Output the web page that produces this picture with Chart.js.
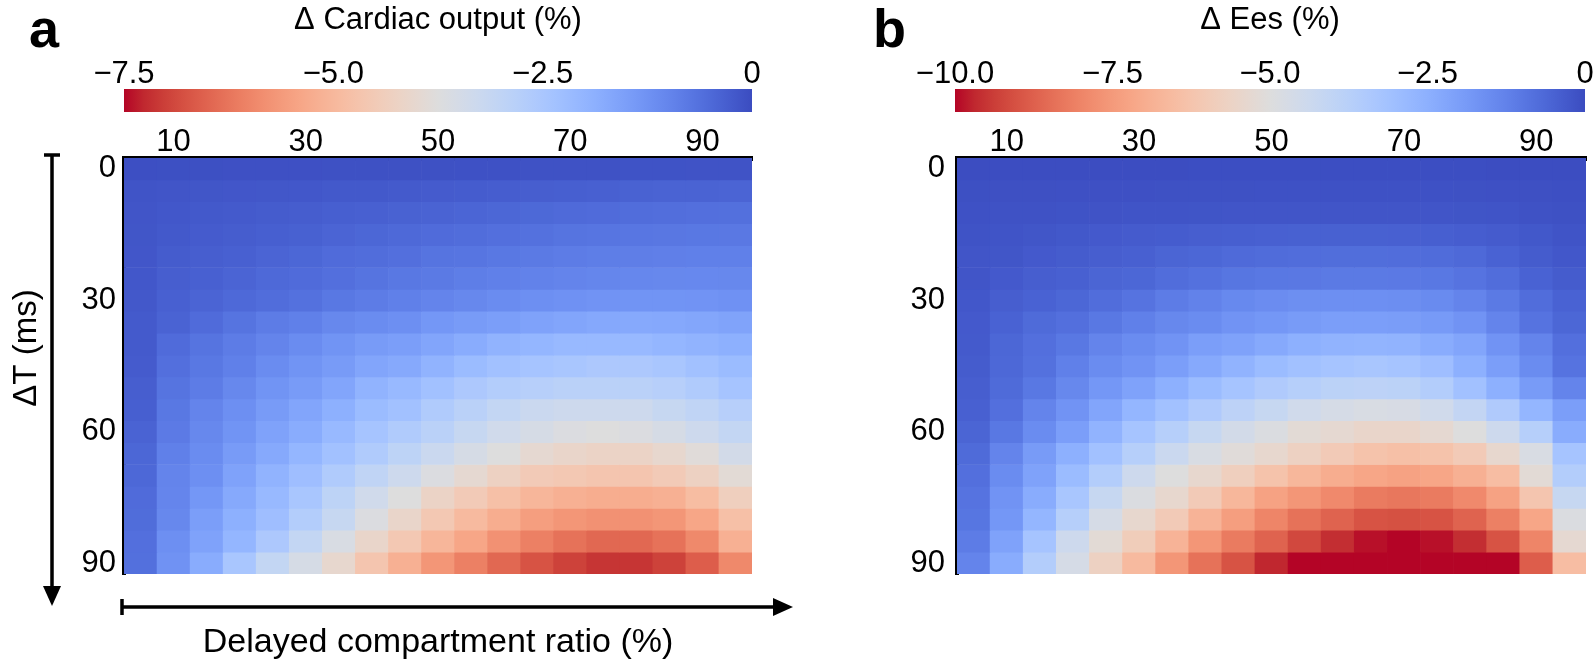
<!DOCTYPE html>
<html>
<head>
<meta charset="utf-8">
<script src="https://cdn.jsdelivr.net/npm/chart.js@4.4.1/dist/chart.umd.min.js"></script>
<style>
  html, body { margin: 0; padding: 0; background: #fff; }
  body { width: 1594px; height: 666px; position: relative; overflow: hidden; font-family: 'Liberation Sans', Arial, sans-serif; }
  .box { position: absolute; }
  .tag { position: absolute; font-weight: bold; font-size: 54px; line-height: 1; color: #000; }
</style>
</head>
<body>
<div class="tag" style="left:29px;top:1px">a</div>
<div class="tag" style="left:873px;top:1px">b</div>
<div class="box" style="left:0px;top:80px;width:800px;height:586px"><canvas id="heatA"></canvas></div>
<div class="box" style="left:850px;top:80px;width:744px;height:586px"><canvas id="heatB"></canvas></div>
<div class="box" style="left:84px;top:0px;width:708px;height:112px"><canvas id="barA"></canvas></div>
<div class="box" style="left:915px;top:0px;width:710px;height:112px"><canvas id="barB"></canvas></div>
<script>
// delayed compartment ratio (%) columns and ΔT (ms) rows
const xLabels = [5, 10, 15, 20, 25, 30, 35, 40, 45, 50, 55, 60, 65, 70, 75, 80, 85, 90, 95];
const yLabels = [0, 5, 10, 15, 20, 25, 30, 35, 40, 45, 50, 55, 60, 65, 70, 75, 80, 85, 90];
const xTicks = [10, 30, 50, 70, 90];
const yTicks = [0, 30, 60, 90];
const cbTicksA = [-7.5, -5, -2.5, 0];
const cbTicksB = [-10, -7.5, -5, -2.5, 0];

// Δ cardiac output (%), one row per ΔT
const coData = [
  [-0.05,-0.06,-0.06,-0.07,-0.07,-0.07,-0.08,-0.08,-0.08,-0.08,-0.09,-0.09,-0.1,-0.1,-0.1,-0.11,-0.11,-0.12,-0.12],
  [-0.14,-0.15,-0.16,-0.17,-0.18,-0.19,-0.21,-0.22,-0.24,-0.25,-0.27,-0.29,-0.3,-0.32,-0.34,-0.36,-0.38,-0.39,-0.41],
  [-0.15,-0.19,-0.22,-0.24,-0.26,-0.28,-0.31,-0.34,-0.37,-0.39,-0.42,-0.45,-0.48,-0.51,-0.53,-0.56,-0.58,-0.6,-0.61],
  [-0.16,-0.22,-0.25,-0.28,-0.31,-0.35,-0.41,-0.45,-0.49,-0.53,-0.56,-0.6,-0.64,-0.68,-0.71,-0.72,-0.74,-0.75,-0.76],
  [-0.17,-0.26,-0.3,-0.34,-0.41,-0.45,-0.53,-0.56,-0.6,-0.68,-0.71,-0.75,-0.79,-0.83,-0.86,-0.87,-0.89,-0.9,-0.9],
  [-0.19,-0.3,-0.34,-0.41,-0.49,-0.53,-0.6,-0.68,-0.75,-0.79,-0.86,-0.9,-0.94,-0.98,-1.01,-1.04,-1.05,-1.06,-1.05],
  [-0.2,-0.34,-0.41,-0.49,-0.56,-0.64,-0.75,-0.83,-0.9,-0.98,-1.05,-1.13,-1.2,-1.24,-1.27,-1.28,-1.28,-1.27,-1.24],
  [-0.23,-0.38,-0.53,-0.68,-0.83,-0.9,-1.05,-1.13,-1.2,-1.35,-1.43,-1.5,-1.58,-1.65,-1.7,-1.72,-1.7,-1.66,-1.6],
  [-0.24,-0.53,-0.68,-0.83,-0.98,-1.13,-1.28,-1.43,-1.5,-1.65,-1.8,-1.95,-2.03,-2.1,-2.12,-2.1,-2.03,-1.95,-1.88],
  [-0.25,-0.6,-0.75,-0.9,-1.13,-1.28,-1.43,-1.65,-1.73,-1.95,-2.18,-2.33,-2.4,-2.48,-2.55,-2.55,-2.48,-2.33,-2.18],
  [-0.3,-0.68,-0.83,-1.05,-1.28,-1.43,-1.65,-1.95,-2.1,-2.33,-2.55,-2.7,-2.78,-2.85,-2.87,-2.85,-2.78,-2.63,-2.4],
  [-0.32,-0.75,-0.98,-1.2,-1.43,-1.65,-1.88,-2.18,-2.33,-2.63,-2.85,-3.08,-3.23,-3.3,-3.32,-3.3,-3.15,-3.0,-2.78],
  [-0.38,-0.8,-1.05,-1.28,-1.58,-1.8,-2.1,-2.4,-2.63,-2.85,-3.15,-3.38,-3.53,-3.68,-3.75,-3.68,-3.53,-3.3,-3.08],
  [-0.45,-0.9,-1.13,-1.43,-1.73,-2.03,-2.33,-2.63,-2.93,-3.23,-3.53,-3.75,-3.98,-4.13,-4.2,-4.2,-4.05,-3.83,-3.45],
  [-0.47,-0.98,-1.2,-1.58,-1.95,-2.25,-2.63,-3.0,-3.3,-3.68,-3.98,-4.28,-4.5,-4.58,-4.65,-4.65,-4.5,-4.28,-3.9],
  [-0.53,-1.0,-1.35,-1.73,-2.1,-2.48,-2.93,-3.38,-3.75,-4.2,-4.5,-4.8,-5.03,-5.18,-5.25,-5.25,-5.18,-4.88,-4.35],
  [-0.55,-1.05,-1.5,-1.88,-2.25,-2.7,-3.15,-3.68,-4.13,-4.58,-4.95,-5.25,-5.55,-5.7,-5.78,-5.78,-5.7,-5.4,-4.8],
  [-0.6,-1.2,-1.58,-2.03,-2.55,-3.08,-3.6,-4.13,-4.58,-5.03,-5.4,-5.78,-6.08,-6.3,-6.45,-6.45,-6.3,-5.93,-5.18],
  [-0.62,-1.25,-1.8,-2.48,-3.08,-3.53,-4.05,-4.65,-5.18,-5.7,-6.08,-6.45,-6.75,-6.98,-7.13,-7.13,-6.98,-6.6,-5.93]
];

// Δ Ees (%), one row per ΔT
const eesData = [
  [-0.02,-0.02,-0.03,-0.03,-0.03,-0.03,-0.03,-0.04,-0.04,-0.04,-0.04,-0.04,-0.04,-0.04,-0.04,-0.04,-0.03,-0.03,-0.02],
  [-0.08,-0.09,-0.09,-0.1,-0.1,-0.1,-0.11,-0.11,-0.11,-0.12,-0.12,-0.12,-0.12,-0.12,-0.12,-0.11,-0.1,-0.09,-0.07],
  [-0.12,-0.13,-0.14,-0.15,-0.16,-0.17,-0.18,-0.19,-0.2,-0.2,-0.21,-0.21,-0.21,-0.21,-0.2,-0.19,-0.17,-0.14,-0.11],
  [-0.15,-0.18,-0.22,-0.26,-0.3,-0.33,-0.36,-0.4,-0.43,-0.45,-0.46,-0.46,-0.46,-0.45,-0.43,-0.39,-0.34,-0.26,-0.18],
  [-0.2,-0.22,-0.3,-0.35,-0.4,-0.45,-0.55,-0.6,-0.68,-0.72,-0.75,-0.76,-0.76,-0.75,-0.72,-0.65,-0.5,-0.35,-0.25],
  [-0.2,-0.3,-0.4,-0.45,-0.55,-0.6,-0.75,-0.85,-0.95,-1.0,-1.02,-1.05,-1.05,-1.04,-1.0,-0.9,-0.75,-0.5,-0.35],
  [-0.25,-0.4,-0.5,-0.6,-0.75,-0.9,-1.1,-1.25,-1.42,-1.52,-1.58,-1.6,-1.6,-1.55,-1.48,-1.3,-1.05,-0.75,-0.5],
  [-0.3,-0.5,-0.7,-0.8,-1.0,-1.2,-1.4,-1.5,-1.7,-1.8,-1.9,-2.0,-2.0,-1.95,-1.88,-1.7,-1.3,-0.9,-0.6],
  [-0.32,-0.6,-0.8,-1.0,-1.3,-1.5,-1.7,-2.0,-2.1,-2.3,-2.5,-2.6,-2.65,-2.6,-2.4,-2.2,-1.7,-1.3,-0.8],
  [-0.35,-0.62,-0.85,-1.2,-1.5,-1.7,-2.0,-2.3,-2.6,-2.9,-3.1,-3.2,-3.3,-3.2,-3.0,-2.5,-2.0,-1.5,-0.9],
  [-0.4,-0.7,-1.0,-1.4,-1.8,-2.1,-2.5,-2.9,-3.2,-3.5,-3.7,-3.85,-3.9,-3.85,-3.6,-3.1,-2.5,-1.9,-1.3],
  [-0.45,-0.8,-1.3,-1.7,-2.2,-2.7,-3.1,-3.5,-3.9,-4.2,-4.5,-4.7,-4.8,-4.75,-4.5,-4.1,-3.5,-2.7,-2.0],
  [-0.55,-1.0,-1.5,-2.0,-2.6,-3.2,-3.7,-4.2,-4.6,-4.9,-5.2,-5.3,-5.5,-5.5,-5.3,-5.0,-4.4,-3.7,-2.4],
  [-0.7,-1.3,-1.9,-2.5,-3.1,-3.7,-4.3,-4.8,-5.1,-5.4,-5.7,-6.0,-6.3,-6.4,-6.3,-6.0,-5.4,-4.8,-3.2],
  [-0.8,-1.5,-2.1,-2.9,-3.6,-4.4,-5.0,-5.4,-5.8,-6.3,-6.7,-7.0,-7.2,-7.3,-7.2,-6.9,-6.5,-5.2,-3.6],
  [-0.9,-1.7,-2.4,-3.3,-4.2,-4.9,-5.4,-6.0,-6.7,-7.3,-7.6,-7.9,-8.2,-8.3,-8.2,-7.9,-7.3,-6.2,-4.2],
  [-0.95,-1.8,-2.7,-3.7,-4.7,-5.4,-6.0,-6.8,-7.4,-8.0,-8.4,-8.7,-9.0,-9.05,-9.0,-8.7,-8.1,-7.2,-4.9],
  [-1.1,-2.1,-3.2,-4.4,-5.2,-5.9,-6.8,-7.6,-8.2,-8.7,-9.2,-9.6,-9.9,-10.0,-9.9,-9.6,-9.0,-8.0,-5.3],
  [-1.3,-2.4,-3.6,-4.7,-5.7,-6.6,-7.6,-8.4,-9.0,-9.7,-10.1,-10.4,-10.6,-10.7,-10.6,-10.4,-10.1,-8.8,-6.5]
];

// coolwarm colormap, blue (0) -> red (1)
const coolwarmStops = [
  [59,76,192],[68,90,204],[77,104,215],[87,117,225],[98,130,234],[108,142,241],[119,154,247],[130,165,251],
  [141,176,254],[152,185,255],[163,194,255],[174,201,253],[184,208,249],[194,213,244],[204,217,238],[213,219,230],
  [221,221,221],[229,216,209],[236,211,197],[241,204,185],[245,196,173],[247,187,160],[247,177,148],[247,166,135],
  [244,154,123],[241,141,111],[236,127,99],[229,112,88],[222,96,77],[213,80,66],[203,62,56],[192,40,47],[180,4,38]
];

function coolwarm(t) {
  t = Math.min(1, Math.max(0, t));
  const n = coolwarmStops.length;
  const p = t * (n - 1);
  const i = Math.min(n - 2, Math.floor(p));
  const f = p - i;
  const a = coolwarmStops[i], b = coolwarmStops[i + 1];
  const c = a.map((v, k) => Math.round(v + (b[k] - v) * f));
  return 'rgb(' + c.join(',') + ')';
}

function cbGradient(chart) {
  const a = chart.chartArea;
  if (!a) return null;
  const g = chart.ctx.createLinearGradient(a.left, 0, a.right, 0);
  const n = coolwarmStops.length;
  coolwarmStops.forEach((c, k) => g.addColorStop(1 - k / (n - 1), 'rgb(' + c.join(',') + ')'));
  return g;
}

Chart.defaults.font.family = "'Liberation Sans', Arial, sans-serif";
Chart.defaults.color = '#000';

// arrows and axis names of panel a
const panelAExtras = {
  id: 'panelAExtras',
  afterDraw(chart) {
    const { ctx, chartArea: a } = chart;
    ctx.save();
    ctx.strokeStyle = '#000';
    ctx.fillStyle = '#000';
    ctx.lineWidth = 3.5;

    // ΔT arrow (down)
    const vx = a.left - 72, vTop = a.top - 3, vTip = a.bottom + 32;
    ctx.beginPath();
    ctx.moveTo(vx - 8, vTop); ctx.lineTo(vx + 8, vTop);
    ctx.moveTo(vx, vTop); ctx.lineTo(vx, vTip - 18);
    ctx.stroke();
    ctx.beginPath();
    ctx.moveTo(vx - 9, vTip - 20); ctx.lineTo(vx + 9, vTip - 20); ctx.lineTo(vx, vTip);
    ctx.closePath(); ctx.fill();

    // ratio arrow (right)
    const hy = a.bottom + 33, hLeft = a.left - 2, hTip = a.right + 41;
    ctx.beginPath();
    ctx.moveTo(hLeft, hy - 8); ctx.lineTo(hLeft, hy + 8);
    ctx.moveTo(hLeft, hy); ctx.lineTo(hTip - 18, hy);
    ctx.stroke();
    ctx.beginPath();
    ctx.moveTo(hTip - 20, hy - 9); ctx.lineTo(hTip - 20, hy + 9); ctx.lineTo(hTip, hy);
    ctx.closePath(); ctx.fill();

    ctx.font = "34px 'Liberation Sans', Arial, sans-serif";
    ctx.textAlign = 'center';
    ctx.textBaseline = 'middle';
    ctx.fillText('Delayed compartment ratio (%)', (a.left + a.right) / 2, a.bottom + 69);

    ctx.font = "33px 'Liberation Sans', Arial, sans-serif";
    ctx.translate(a.left - 97, a.top + 190);
    ctx.rotate(-Math.PI / 2);
    ctx.fillText('\u0394T (ms)', 0, 0);
    ctx.restore();
  }
};

function heatmap(id, rows, vmin, opt) {
  const datasets = rows.map((vals, r) => ({
    data: vals.map(() => [yLabels[r] - 2.5, yLabels[r] + 2.5]),
    backgroundColor: vals.map(v => coolwarm(v / vmin)),
    borderWidth: 0,
    barPercentage: 1,
    categoryPercentage: 1,
    grouped: false
  }));
  return new Chart(document.getElementById(id), {
    type: 'bar',
    data: { labels: xLabels, datasets },
    plugins: opt.plugins || [],
    options: {
      responsive: true,
      maintainAspectRatio: false,
      animation: false,
      events: [],
      layout: { padding: { left: 0, right: opt.right, top: 0, bottom: 92 } },
      plugins: { legend: { display: false }, tooltip: { enabled: false } },
      scales: {
        x: {
          type: 'category',
          position: 'top',
          offset: true,
          z: 1,
          grid: { display: false, drawTicks: false },
          border: { display: true, color: '#000', width: 5 },
          ticks: {
            autoSkip: false,
            maxRotation: 0,
            padding: 0,
            font: { size: 31, lineHeight: 1 },
            callback: (v, i) => xTicks.includes(xLabels[i]) ? String(xLabels[i]) : ''
          },
          afterFit: s => { s.height = 78; }
        },
        y: {
          type: 'linear',
          reverse: true,
          min: -2.5,
          max: 92.5,
          z: 1,
          grid: { display: false, drawTicks: false },
          border: { display: true, color: '#000', width: 4 },
          afterBuildTicks: s => { s.ticks = yTicks.map(v => ({ value: v })); },
          ticks: { padding: opt.yPad, font: { size: 31 }, callback: v => String(v) },
          afterFit: s => { s.width = opt.yw; }
        }
      }
    }
  });
}

function colorbar(id, title, vmin, tickVals) {
  return new Chart(document.getElementById(id), {
    type: 'bar',
    data: {
      labels: [''],
      datasets: [{
        data: [[vmin, 0]],
        backgroundColor: c => cbGradient(c.chart),
        borderWidth: 0,
        barPercentage: 1,
        categoryPercentage: 1
      }]
    },
    options: {
      indexAxis: 'y',
      responsive: true,
      maintainAspectRatio: false,
      animation: false,
      events: [],
      layout: { padding: { left: 40, right: 40, top: 0, bottom: 0 } },
      plugins: {
        legend: { display: false },
        tooltip: { enabled: false },
        title: {
          display: true,
          text: title,
          color: '#000',
          font: { size: 31, weight: 'normal', lineHeight: 1.2 },
          padding: { top: 2, bottom: 0 }
        }
      },
      scales: {
        x: {
          type: 'linear',
          position: 'top',
          min: vmin,
          max: 0,
          grid: { display: false, drawTicks: false },
          border: { display: false },
          afterBuildTicks: s => { s.ticks = tickVals.map(v => ({ value: v })); },
          ticks: {
            padding: -1,
            font: { size: 31, lineHeight: 1 },
            callback: v => v === 0 ? '0' : '\u2212' + Math.abs(v).toFixed(1)
          },
          afterFit: s => { s.height = 49.8; }
        },
        y: { display: false }
      }
    }
  });
}

heatmap('heatA', coData, -7.5, { yw: 124, right: 48, yPad: 8, plugins: [panelAExtras] });
heatmap('heatB', eesData, -10, { yw: 107, right: 8, yPad: 12 });
colorbar('barA', '\u0394 Cardiac output (%)', -7.5, cbTicksA);
colorbar('barB', '\u0394 Ees (%)', -10, cbTicksB);
</script>
</body>
</html>
